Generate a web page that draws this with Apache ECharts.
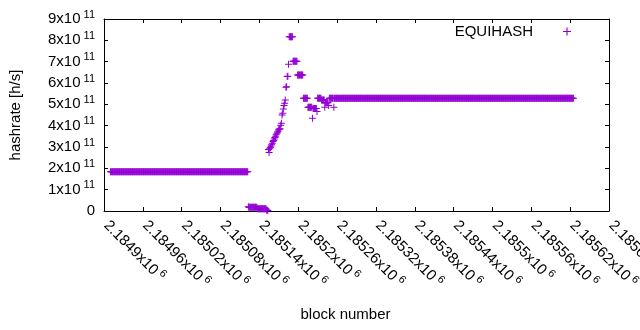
<!DOCTYPE html>
<html><head><meta charset="utf-8">
<script src="https://cdn.jsdelivr.net/npm/echarts@6/dist/echarts.min.js"></script>
<style>html,body{margin:0;padding:0;background:#fff}#c{width:640px;height:330px}</style>
</head><body><div id="c"></div>
<script>
// ---- data ----
const seriesName = 'EQUIHASH';
const xMin = 2184900, xMax = 2185680, xStep = 60;      // x tick labels: 2.1849x10^6 ... 2.18568x10^6
const yMin = 0, yMax = 9e11, yStep = 1e11;              // y tick labels: 0 ... 9x10^11
// runs of consecutive blocks sharing one hashrate value
const runFirst = [2184910, 2185123, 2185124, 2185137, 2185151, 2185153,
  2185154, 2185155, 2185156, 2185157, 2185158, 2185159, 2185160, 2185161, 2185162, 2185163,
  2185164, 2185165, 2185166, 2185167, 2185168, 2185169, 2185170, 2185171, 2185172, 2185173,
  2185174, 2185175, 2185176, 2185177, 2185178, 2185179, 2185180, 2185181, 2185182, 2185183,
  2185184, 2185185,
  2185186, 2185192, 2185199, 2185208, 2185215, 2185222, 2185223, 2185229, 2185230, 2185236,
  2185241, 2185242, 2185247, 2185248, 2185255, 2185256];
const runLast = [2185122, 2185123, 2185136, 2185150, 2185152, 2185153,
  2185154, 2185155, 2185156, 2185157, 2185158, 2185159, 2185160, 2185161, 2185162, 2185163,
  2185164, 2185165, 2185166, 2185167, 2185168, 2185169, 2185170, 2185171, 2185172, 2185173,
  2185174, 2185175, 2185176, 2185177, 2185178, 2185179, 2185180, 2185181, 2185182, 2185183,
  2185184, 2185185,
  2185191, 2185198, 2185207, 2185214, 2185221, 2185222, 2185228, 2185229, 2185235, 2185240,
  2185241, 2185246, 2185247, 2185254, 2185255, 2185625];
const runHashrate = [1.84e11, 0.20e11, 0.17e11, 0.10e11, 0.05e11, 0.02e11,
  2.88e11, 2.74e11, 2.92e11, 2.98e11, 3.05e11, 3.10e11, 3.17e11, 3.26e11, 3.30e11, 3.38e11,
  3.45e11, 3.50e11, 3.58e11, 3.64e11, 3.70e11, 3.75e11, 3.83e11, 3.83e11, 3.86e11, 4.02e11,
  4.11e11, 4.50e11, 4.58e11, 4.78e11, 4.94e11, 5.05e11, 5.20e11, 5.80e11, 5.82e11, 6.30e11,
  6.32e11, 6.88e11,
  8.17e11, 7.02e11, 6.38e11, 5.28e11, 4.86e11, 4.35e11, 4.80e11, 4.66e11, 5.28e11, 5.20e11,
  4.86e11, 5.08e11, 4.95e11, 5.28e11, 4.86e11, 5.28e11];

// ---- build points ----
const points = [];
for (let i = 0; i < runFirst.length; i++) {
  for (let b = runFirst[i]; b <= runLast[i]; b++) points.push([b, runHashrate[i]]);
}

const FONT = '"Liberation Sans", Arial, sans-serif';
const COLOR = '#9400d3';
const PLUS = 'path://M3,0h1v3h3v1h-3v3h-1v-3h-3v-1h3z';
const richStyle = {
  m: {fontSize: 15, fontFamily: FONT, color: '#000', lineHeight: 20},
  s: {fontSize: 11, fontFamily: FONT, color: '#000', lineHeight: 11, verticalAlign: 'top'}
};
const frameLine = {show: true, onZero: false, lineStyle: {color: '#000', width: 1}};
const frameTick = {show: true, inside: true, length: 4, lineStyle: {color: '#000', width: 1}};

const chart = echarts.init(document.getElementById('c'), null, {renderer: 'canvas'});
chart.setOption({
  animation: false,
  backgroundColor: '#fff',
  grid: {left: 104, right: 31, top: 19, bottom: 119, containLabel: false, outerBoundsMode: 'none'},
  legend: {
    data: [seriesName], right: 69, top: 24, padding: 0, align: 'right',
    itemWidth: 8, itemHeight: 8, icon: PLUS,
    textStyle: {fontSize: 15, fontFamily: FONT, color: '#000', padding: [0, 25, 0, 0]}
  },
  xAxis: [{
    type: 'value', position: 'bottom', min: xMin, max: xMax, interval: xStep,
    axisLine: frameLine, axisTick: frameTick, splitLine: {show: false},
    axisLabel: {
      rotate: -45, margin: 10, padding: [0, 0, 0, 3],
      formatter: v => '{m|' + (+(v / 1e6).toFixed(5)) + 'x10}{s| 6}',
      rich: richStyle
    },
    name: 'block number', nameLocation: 'middle', nameGap: 96,
    nameTextStyle: {fontSize: 15, fontFamily: FONT, color: '#000', padding: [0, 22, 0, 0]}
  }, {
    type: 'value', position: 'top', min: xMin, max: xMax, interval: xStep,
    axisLine: frameLine, axisTick: frameTick, splitLine: {show: false}, axisLabel: {show: false}
  }],
  yAxis: [{
    type: 'value', position: 'left', min: yMin, max: yMax, interval: yStep,
    axisLine: frameLine, axisTick: frameTick, splitLine: {show: false},
    axisLabel: {
      margin: 9,
      formatter: v => v === 0 ? '{m|0}' : '{m|' + Math.round(v / 1e11) + 'x10}{s| 11}',
      rich: richStyle
    },
    name: 'hashrate [h/s]', nameLocation: 'middle', nameGap: 81,
    nameTextStyle: {fontSize: 15, fontFamily: FONT, color: '#000'}
  }, {
    type: 'value', position: 'right', min: yMin, max: yMax, interval: yStep,
    axisLine: frameLine, axisTick: frameTick, splitLine: {show: false}, axisLabel: {show: false}
  }],
  series: [{
    name: seriesName, type: 'scatter', xAxisIndex: 0, yAxisIndex: 0,
    symbol: PLUS, symbolSize: 7, itemStyle: {color: COLOR, opacity: 1},
    data: points
  }]
});
</script></body></html>
